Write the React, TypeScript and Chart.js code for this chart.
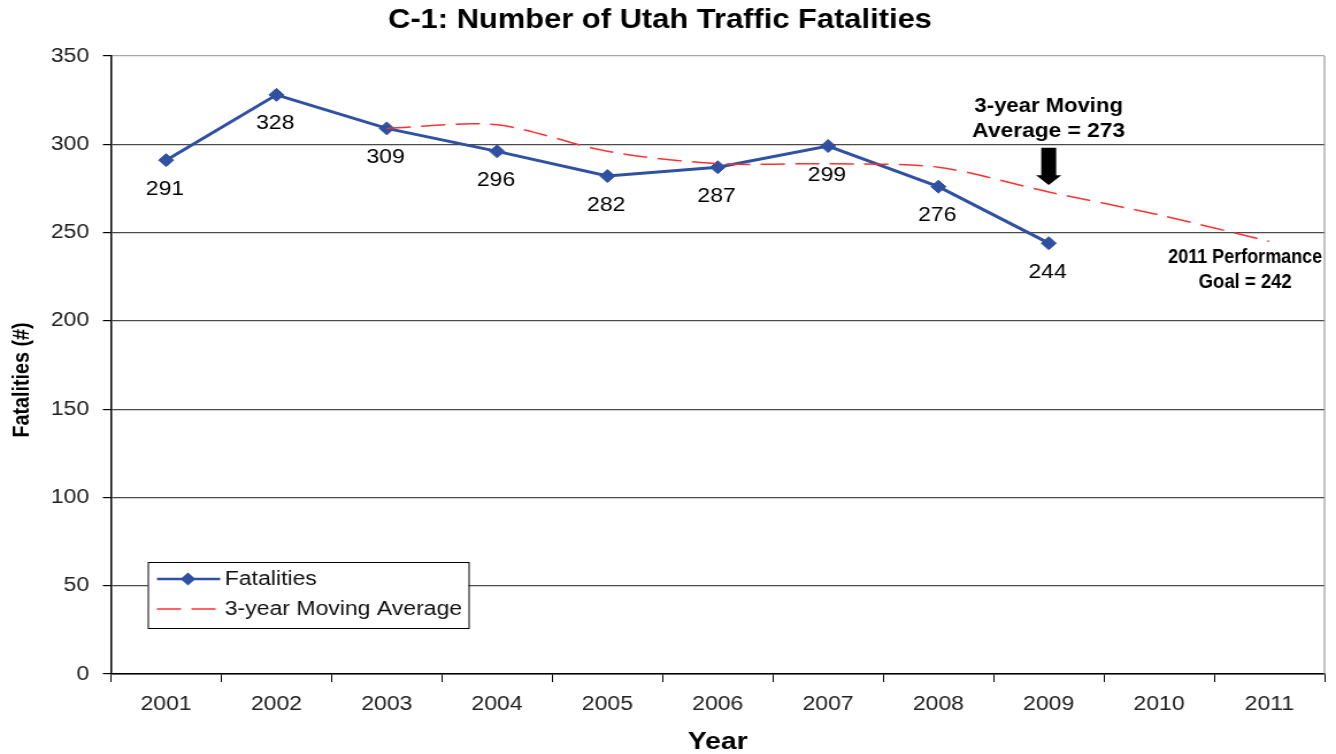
import React, { useEffect, useRef } from 'react';
import { Chart, registerables } from 'chart.js';

Chart.register(...registerables);

// ---------- data ----------
const years = ['2001', '2002', '2003', '2004', '2005', '2006', '2007', '2008', '2009', '2010', '2011'];
const fatalities: (number | null)[] = [291, 328, 309, 296, 282, 287, 299, 276, 244, null, null];
const movingAverage: (number | null)[] = [null, null, 309, 311, 296, 289, 289, 287, 273, 260, 245];
const yMin = 0;
const yMax = 350;
const yStep = 50;

const titleText = 'C-1: Number of Utah Traffic Fatalities';
const xTitleText = 'Year';
const yTitleText = 'Fatalities (#)';
const legendLabels = ['Fatalities', '3-year Moving Average'];
const noteMA = ['3-year Moving', 'Average = 273'];
const noteGoal = ['2011 Performance', 'Goal = 242'];

// ---------- layout ----------
const W = 1336;
const H = 754;
const STRETCH = 1.15;
const CW = Math.round(W / STRETCH);
const FONT = "'Liberation Sans', Arial, Helvetica, sans-serif";
const BLUE = '#3050a2';
const RED = '#ff3030';

function drawText(
  ctx: CanvasRenderingContext2D,
  text: string,
  x: number,
  y: number,
  font: string,
  opts: { align?: CanvasTextAlign; baseline?: CanvasTextBaseline; color?: string; width?: number } = {}
) {
  ctx.save();
  ctx.font = font;
  ctx.fillStyle = opts.color || '#000';
  ctx.textAlign = opts.align || 'center';
  ctx.textBaseline = opts.baseline || 'middle';
  const w = ctx.measureText(text).width;
  const s = opts.width ? opts.width / w : 1;
  ctx.translate(x, y);
  ctx.scale(s, 1);
  ctx.fillText(text, 0, 0);
  ctx.restore();
}

const decorPlugin = {
  id: 'decor',
  beforeDatasetsDraw(chart: any) {
    const { ctx, chartArea: ca } = chart;
    ctx.save();
    ctx.strokeStyle = '#9a9a9a';
    ctx.lineWidth = 1.2;
    ctx.beginPath();
    ctx.moveTo(ca.right, ca.top);
    ctx.lineTo(ca.right, ca.bottom);
    ctx.stroke();
    ctx.restore();
  },
  afterDraw(chart: any) {
    const { ctx, chartArea: ca } = chart;
    const xs = chart.scales.x;
    const ys = chart.scales.y;

    // data labels under the Fatalities points
    const meta = chart.getDatasetMeta(0);
    meta.data.forEach((pt: any, i: number) => {
      const v = fatalities[i];
      if (v == null) return;
      drawText(ctx, String(v), pt.x - 1, pt.y + 29, `20px ${FONT}`, { color: '#000' });
    });

    // legend box
    const lx = ca.left + 32;
    const ly = ca.bottom - 112;
    const lw = 279;
    const lh = 66;
    ctx.save();
    ctx.fillStyle = '#fff';
    ctx.fillRect(lx, ly, lw, lh);
    ctx.strokeStyle = '#000';
    ctx.lineWidth = 1;
    ctx.strokeRect(lx + 0.5, ly + 0.5, lw, lh);
    // fatalities sample
    const r1 = ly + 17;
    ctx.strokeStyle = BLUE;
    ctx.lineWidth = 2.5;
    ctx.beginPath();
    ctx.moveTo(lx + 8, r1);
    ctx.lineTo(lx + 63, r1);
    ctx.stroke();
    ctx.fillStyle = BLUE;
    ctx.beginPath();
    const dx = lx + 35;
    ctx.moveTo(dx - 6.5, r1);
    ctx.lineTo(dx, r1 - 6.5);
    ctx.lineTo(dx + 6.5, r1);
    ctx.lineTo(dx, r1 + 6.5);
    ctx.closePath();
    ctx.fill();
    // moving average sample
    const r2 = ly + 47;
    ctx.strokeStyle = RED;
    ctx.lineWidth = 1.5;
    ctx.setLineDash([21, 9]);
    ctx.beginPath();
    ctx.moveTo(lx + 8, r2);
    ctx.lineTo(lx + 63, r2);
    ctx.stroke();
    ctx.setLineDash([]);
    ctx.restore();
    drawText(ctx, legendLabels[0], lx + 67, r1, `20px ${FONT}`, { align: 'left', color: '#111' });
    drawText(ctx, legendLabels[1], lx + 67, r2, `20px ${FONT}`, { align: 'left', color: '#111' });

    // moving average annotation + arrow
    const ax = xs.getPixelForValue(8);
    drawText(ctx, noteMA[0], ax, ys.getPixelForValue(321.5), `bold 20px ${FONT}`, { width: 129 });
    drawText(ctx, noteMA[1], ax, ys.getPixelForValue(307.5), `bold 20px ${FONT}`, { width: 133 });
    const shaftTop = ys.getPixelForValue(298);
    const headTop = ys.getPixelForValue(282.5);
    const tip = ys.getPixelForValue(277);
    ctx.save();
    ctx.fillStyle = '#000';
    ctx.beginPath();
    ctx.moveTo(ax - 6.5, shaftTop);
    ctx.lineTo(ax + 6.5, shaftTop);
    ctx.lineTo(ax + 6.5, headTop);
    ctx.lineTo(ax + 11, headTop);
    ctx.lineTo(ax, tip);
    ctx.lineTo(ax - 11, headTop);
    ctx.lineTo(ax - 6.5, headTop);
    ctx.closePath();
    ctx.fill();
    ctx.restore();

    // performance goal annotation
    const gx = xs.getPixelForValue(10) - 21;
    drawText(ctx, noteGoal[0], gx, ys.getPixelForValue(236), `bold 20px ${FONT}`, { width: 134 });
    drawText(ctx, noteGoal[1], gx, ys.getPixelForValue(221.5), `bold 20px ${FONT}`, { width: 81 });

    // titles
    drawText(ctx, titleText, CW / 2 - 7, 21, `bold 27px ${FONT}`, { width: 473 });
    drawText(ctx, xTitleText, (ca.left + ca.right) / 2, 742, `bold 24px ${FONT}`, { width: 52 });
    ctx.save();
    ctx.translate(19, (ca.top + ca.bottom) / 2 + 15);
    ctx.rotate(-Math.PI / 2);
    drawText(ctx, yTitleText, 0, 0, `bold 21px ${FONT}`, { width: 115 });
    ctx.restore();
  },
};

export default function App() {
  const ref = useRef<HTMLCanvasElement>(null);

  useEffect(() => {
    const canvas = ref.current;
    if (!canvas) return;
    const chart = new Chart(canvas, {
      type: 'line',
      data: {
        labels: years,
        datasets: [
          {
            label: legendLabels[0],
            data: fatalities,
            borderColor: BLUE,
            backgroundColor: BLUE,
            borderWidth: 3,
            pointStyle: 'rectRot',
            pointRadius: 6.5,
            pointBorderWidth: 1,
            pointBackgroundColor: BLUE,
            pointBorderColor: BLUE,
            tension: 0,
            spanGaps: false,
            order: 1,
          },
          {
            label: legendLabels[1],
            data: movingAverage,
            borderColor: RED,
            borderWidth: 1.5,
            borderDash: [21, 9],
            pointRadius: 0,
            tension: 0.3,
            order: 0,
          },
        ],
      },
      options: {
        responsive: false,
        animation: false,
        devicePixelRatio: 1,
        layout: { padding: { top: 56, right: CW - 1152, left: 0, bottom: 0 } },
        plugins: {
          legend: { display: false },
          title: { display: false },
          tooltip: { enabled: false },
        },
        scales: {
          x: {
            type: 'category',
            offset: true,
            grid: {
              offset: true,
              drawOnChartArea: false,
              drawTicks: true,
              tickLength: 8,
              color: '#000',
              tickColor: '#000',
            },
            border: { color: '#000', width: 1.5 },
            ticks: {
              font: { family: FONT, size: 20 },
              color: '#222',
              padding: 10,
              maxRotation: 0,
              autoSkip: false,
            },
            afterFit: (s: any) => {
              s.height = 80;
            },
          },
          y: {
            min: yMin,
            max: yMax,
            ticks: {
              stepSize: yStep,
              font: { family: FONT, size: 20 },
              color: '#222',
              padding: 12,
            },
            grid: {
              color: (c: any) => (c.tick && c.tick.value === yMax ? '#a8a8a8' : '#4a4a4a'),
              lineWidth: 1.2,
              tickLength: 7,
              tickColor: '#000',
            },
            border: { color: '#000', width: 1.5 },
            afterFit: (s: any) => {
              s.width = 96.5;
            },
          },
        },
      },
      plugins: [decorPlugin],
    });
    return () => chart.destroy();
  }, []);

  return (
    <div style={{ position: 'fixed', left: 0, top: 0, width: W, height: H, background: '#fff' }}>
      <canvas
        ref={ref}
        width={CW}
        height={H}
        style={{ width: `${W}px`, height: `${H}px`, display: 'block' }}
      />
    </div>
  );
}
